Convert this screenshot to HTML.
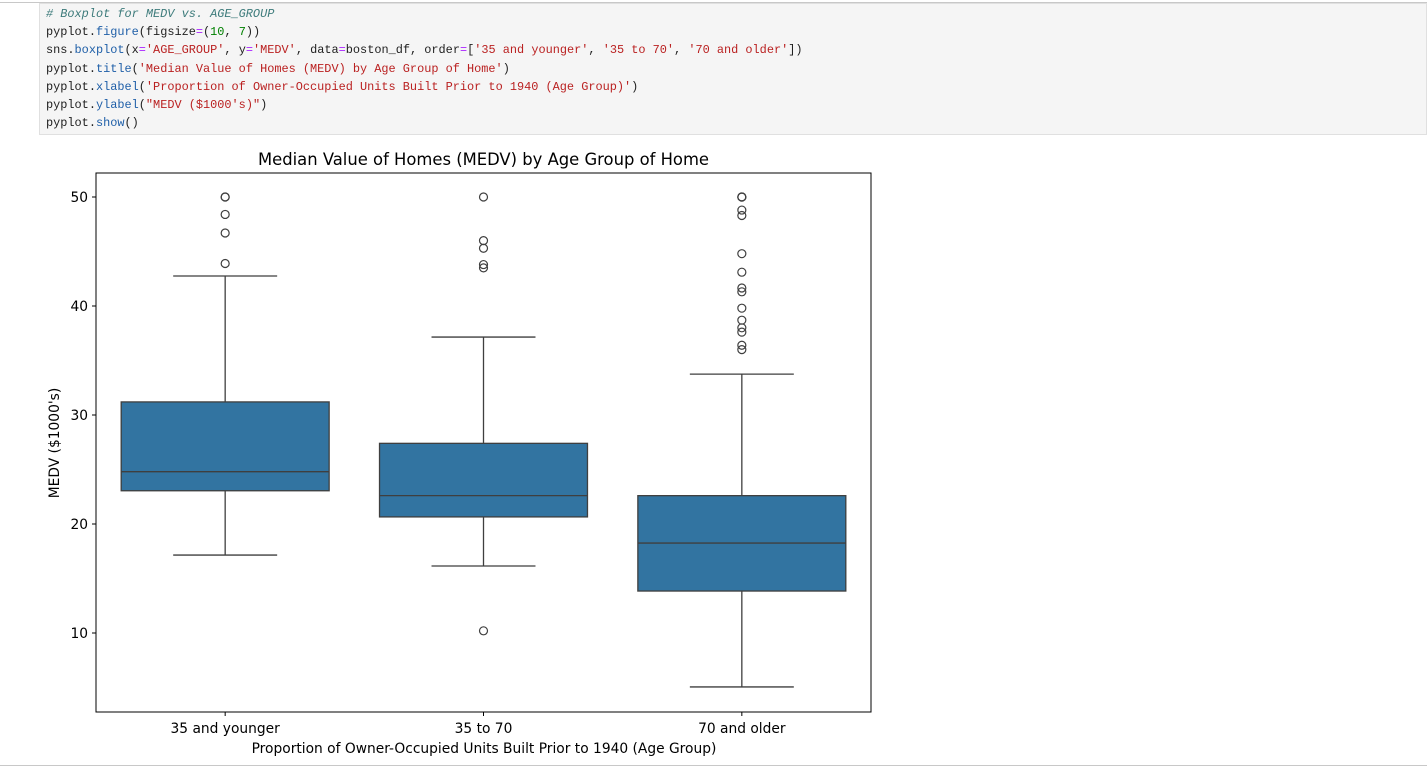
<!DOCTYPE html>
<html><head><meta charset="utf-8"><style>
body{margin:0;width:1427px;height:767px;background:#fff;position:relative;overflow:hidden;font-family:"DejaVu Sans",sans-serif}
#topline{position:absolute;left:0;top:2px;width:1427px;height:1px;background:#c8c8c8}
#cell{position:absolute;left:39px;top:3px;width:1388px;height:132px;background:#f5f5f5;border:1px solid #e0e0e0;box-sizing:border-box}
#code{position:absolute;left:46px;top:5px;font-family:"Liberation Mono",monospace;font-size:11.9px;line-height:18.2px;color:#212121;white-space:pre;margin:0}
.c{color:#3d7b7b;font-style:italic}.f{color:#1f5fa8}.o{color:#aa22ff}.s{color:#ba2121}.n{color:#008000}
#bottomline{position:absolute;left:0;top:765px;width:1427px;height:1px;background:#c8c8c8}
</style></head><body>
<div id="topline"></div>
<div id="cell"></div>
<pre id="code"><span class="c"># Boxplot for MEDV vs. AGE_GROUP</span>
pyplot.<span class="f">figure</span>(figsize<span class="o">=</span>(<span class="n">10</span>, <span class="n">7</span>))
sns.<span class="f">boxplot</span>(x<span class="o">=</span><span class="s">'AGE_GROUP'</span>, y<span class="o">=</span><span class="s">'MEDV'</span>, data<span class="o">=</span>boston_df, order<span class="o">=</span>[<span class="s">'35 and younger'</span>, <span class="s">'35 to 70'</span>, <span class="s">'70 and older'</span>])
pyplot.<span class="f">title</span>(<span class="s">'Median Value of Homes (MEDV) by Age Group of Home'</span>)
pyplot.<span class="f">xlabel</span>(<span class="s">'Proportion of Owner-Occupied Units Built Prior to 1940 (Age Group)'</span>)
pyplot.<span class="f">ylabel</span>(<span class="s">"MEDV ($1000's)"</span>)
pyplot.<span class="f">show</span>()</pre>
<svg id="chart" width="1427" height="767" style="position:absolute;left:0;top:0"></svg>
<div id="bottomline"></div>
<script>
const categories=['35 and younger','35 to 70','70 and older'];
const q1=[23.05,20.65,13.85];
const medians=[24.8,22.6,18.25];
const q3=[31.2,27.4,22.6];
const whiskLo=[17.15,16.15,5.05];
const whiskHi=[42.75,37.15,33.75];
const outliers=[[50,50,48.4,46.7,43.9],[50,46,45.3,43.8,43.5,10.2],[50,50,50,48.8,48.3,44.8,43.1,41.65,41.3,39.8,38.7,38,37.6,36.4,36]];
const yTicks=[10,20,30,40,50];
const svg=document.getElementById('chart');const NS='http://www.w3.org/2000/svg';
const L=96,R=871,T=173,B=712;
function y(v){return 633-(v-10)*10.9;}
function x(i){return L+(R-L)*(i+0.5)/categories.length;}
const bw=(R-L)/categories.length*0.805;
function mk(t,a,txt){const e=document.createElementNS(NS,t);for(const k in a)e.setAttribute(k,a[k]);if(txt!==undefined)e.textContent=txt;svg.appendChild(e);return e;}
const st='#3f3f3f';
let e=mk('text',{x:(L+R)/2,y:165,'text-anchor':'middle','font-size':'16.4','fill':'#000'},'Median Value of Homes (MEDV) by Age Group of Home');


yTicks.forEach(v=>{
 let t=mk('line',{x1:L-4,x2:L,y1:y(v),y2:y(v),stroke:'#000','stroke-width':1});
 
 
 let l=mk('text',{x:L-8,y:y(v)+5,'text-anchor':'end','font-size':'13.8',fill:'#000'},v);
 
 
});
categories.forEach((c,i)=>{
 const cx=x(i),hw=bw/2,cw=hw/2;
 let g;
 g=mk('line',{x1:cx,x2:cx,y1:y(q1[i]),y2:y(whiskLo[i]),stroke:st,'stroke-width':1.3});
 
 
 g=mk('line',{x1:cx,x2:cx,y1:y(q3[i]),y2:y(whiskHi[i]),stroke:st,'stroke-width':1.3});
 
 
 g=mk('line',{x1:cx-cw,x2:cx+cw,y1:y(whiskLo[i]),y2:y(whiskLo[i]),stroke:st,'stroke-width':1.3});
 
 
 g=mk('line',{x1:cx-cw,x2:cx+cw,y1:y(whiskHi[i]),y2:y(whiskHi[i]),stroke:st,'stroke-width':1.3});
 
 
 g=mk('rect',{x:cx-hw,y:y(q3[i]),width:bw,height:y(q1[i])-y(q3[i]),fill:'#3274a1',stroke:st,'stroke-width':1.3});
 
 
 g=mk('line',{x1:cx-hw,x2:cx+hw,y1:y(medians[i]),y2:y(medians[i]),stroke:st,'stroke-width':1.3});
 
 
 outliers[i].forEach(v=>{
  let o=mk('circle',{cx:cx,cy:y(v),r:4,fill:'none',stroke:st,'stroke-width':1.2});
  
  
 });
 let t=mk('line',{x1:cx,x2:cx,y1:B,y2:B+4,stroke:'#000','stroke-width':1});
 
 
 let l=mk('text',{x:cx,y:B+21,'text-anchor':'middle','font-size':'13.8',fill:'#000'},c);
 
 
});
e=mk('rect',{x:L,y:T,width:R-L,height:B-T,fill:'none',stroke:'#000','stroke-width':1});


e=mk('text',{x:(L+R)/2+0.5,y:753,'text-anchor':'middle','font-size':'13.8',fill:'#000'},'Proportion of Owner-Occupied Units Built Prior to 1940 (Age Group)');


e=mk('text',{x:0,y:0,'text-anchor':'middle','font-size':'13.8',fill:'#000',transform:'translate(59,443) rotate(-90)'},"MEDV ($1000's)");


</script>
</body></html>
